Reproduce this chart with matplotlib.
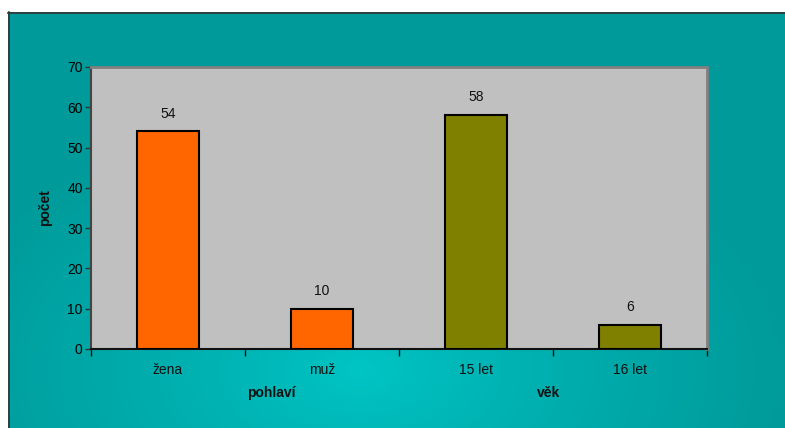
import matplotlib
matplotlib.use("Agg")
import matplotlib.pyplot as plt
import numpy as np
from matplotlib.colors import to_rgb

plt.rcParams['font.family'] = ['Liberation Sans', 'DejaVu Sans']

categories = ["žena", "muž", "15 let", "16 let"]
values = [54, 10, 58, 6]
bar_colors = ["#FF6600", "#FF6600", "#808000", "#808000"]
groups = ["pohlaví", "věk"]
group_pos = [0.67, 2.47]
ylabel = "počet"

W, H = 785, 428
fig = plt.figure(figsize=(W / 100, H / 100), dpi=100)

# background with radial gradient
bg = fig.add_axes([0, 0, 1, 1])
bg.set_axis_off()
yy, xx = np.mgrid[0:H, 0:W]
cx, cy = 360, 370
r = np.sqrt(((xx - cx) / 430.0) ** 2 + ((yy - cy) / 270.0) ** 2)
t = np.clip(r, 0, 1) ** 0.8
c_in = np.array(to_rgb("#00C6C6"))
c_out = np.array(to_rgb("#009A9A"))
img = c_in[None, None, :] * (1 - t[..., None]) + c_out[None, None, :] * t[..., None]
img[:12, :, :] = 1.0
img[:, :8, :] = 1.0
bg.imshow(img, extent=[0, W, H, 0], aspect='auto', interpolation='bilinear')
bg.plot([8, W], [12.5, 12.5], color='#333333', lw=1.2)
bg.plot([8.5, 8.5], [12, H], color='#333333', lw=1.2)
bg.set_xlim(0, W)
bg.set_ylim(H, 0)

# plot area
left, right, top, bottom = 91, 707, 67, 349
ax = fig.add_axes([left / W, 1 - bottom / H, (right - left) / W, (bottom - top) / H])
ax.set_facecolor("#C0C0C0")
x = np.arange(len(categories))
bars = ax.bar(x, values, width=0.4, color=bar_colors, edgecolor='black', linewidth=1.5, zorder=3)
for xi, v in zip(x, values):
    ax.text(xi, v + 2.7, str(v), ha='center', va='bottom', fontsize=10, color='#111111')

ax.set_xlim(-0.5, 3.5)
ax.set_ylim(0, 70)
ax.set_yticks(range(0, 71, 10))
ax.set_xticks(np.arange(-0.5, 3.6, 1.0))
ax.set_xticklabels([])
ax.tick_params(axis='y', labelsize=10, length=4, width=1, color='#333333', direction='out', pad=2)
ax.tick_params(axis='x', length=5, width=1, color='#111111', direction='out')
for xi, c in zip(x, categories):
    ax.text(xi, -0.075, c, transform=ax.get_xaxis_transform(), ha='center', va='center', fontsize=10, color='#111111')
for gp, g in zip(group_pos, groups):
    ax.text(gp, -0.155, g, transform=ax.get_xaxis_transform(), ha='center', va='center', fontsize=10, fontweight='bold', color='#111111')

ax.spines['top'].set_color('#808080')
ax.spines['right'].set_color('#808080')
ax.spines['top'].set_linewidth(2)
ax.spines['right'].set_linewidth(2)
ax.spines['left'].set_color('#444444')
ax.spines['left'].set_linewidth(1.5)
ax.spines['bottom'].set_color('#111111')
ax.spines['bottom'].set_linewidth(1.5)

fig.text(45 / W, 1 - 208 / H, ylabel, rotation=90, ha='center', va='center', fontsize=10, fontweight='bold', color='#111111')

fig.savefig("out.png", dpi=100)
